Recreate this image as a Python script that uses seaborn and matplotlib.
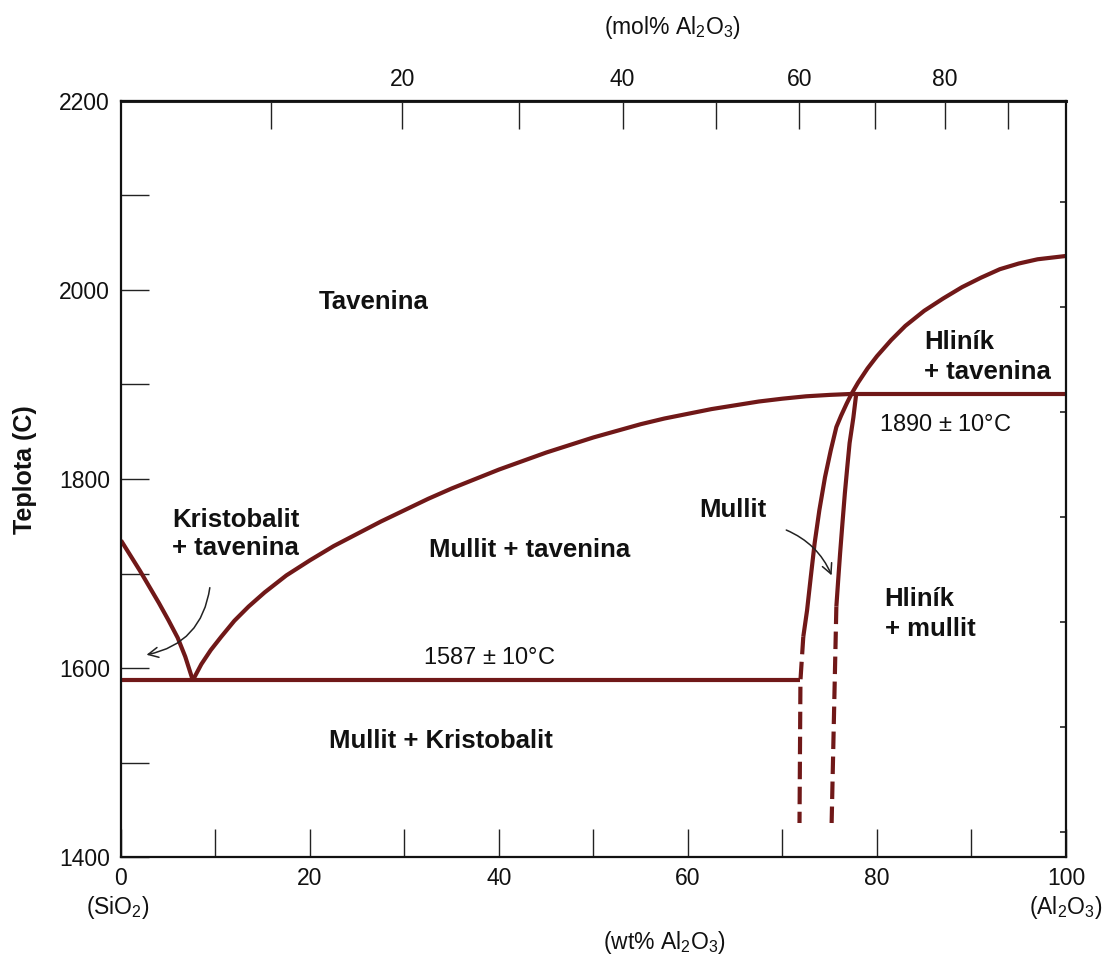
import numpy as np
import pandas as pd
import matplotlib
matplotlib.use("Agg")
import matplotlib.pyplot as plt
import seaborn as sns

# ---------------- data ----------------
# SiO2-side liquidus (cristobalite + melt)
crist_wt = [0.0, 1.0, 2.0, 3.0, 4.0, 5.0, 6.0, 6.8, 7.6]
crist_T = [1735, 1719, 1703, 1686, 1669, 1651, 1632, 1612, 1587]

# mullite liquidus, eutectic -> peritectic
mull_liq_wt = [7.6, 8.5, 9.5, 10.6, 12.0, 13.5, 15.2, 17.5, 20.0, 22.5, 25.0, 27.5, 30.0,
               32.5, 35.0, 37.5, 40.0, 42.5, 45.0, 47.5, 50.0, 52.5, 55.0, 57.5, 60.0,
               62.5, 65.0, 67.5, 70.0, 72.5, 75.0, 77.3]
mull_liq_T = [1587, 1604, 1619, 1633, 1650, 1665, 1680, 1698, 1714, 1729, 1742, 1755, 1767,
              1779, 1790, 1800, 1810, 1819, 1828, 1836, 1844, 1851, 1858, 1864, 1869,
              1874, 1878, 1882, 1885, 1887.5, 1889, 1890]

# alumina liquidus
alu_liq_wt = [77.3, 78.0, 79.0, 80.0, 81.5, 83.0, 85.0, 87.0, 89.0, 91.0, 93.0, 95.0, 97.0, 100.0]
alu_liq_T = [1890, 1902, 1917, 1930, 1947, 1962, 1978, 1991, 2003, 2013, 2022, 2028, 2032.5, 2036]

# eutectic and peritectic isotherms
eut_wt = [0.0, 71.9]
eut_T = [1587, 1587]
per_wt = [77.3, 100.0]
per_T = [1890, 1890]

# mullite field boundaries (solid part, then dashed part)
mull_left_wt = [77.3, 76.8, 76.2, 75.7, 75.1, 74.5, 73.9, 73.4, 73.0, 72.6, 72.2]
mull_left_T = [1890, 1880, 1867, 1855, 1830, 1802, 1767, 1732, 1697, 1661, 1633]
mull_left_dash_wt = [72.2, 71.9, 71.8]
mull_left_dash_T = [1633, 1587, 1436]
mull_right_wt = [77.8, 77.5, 77.1, 76.85, 76.6, 76.35, 76.1, 75.9, 75.7]
mull_right_T = [1890, 1865, 1838, 1812, 1785, 1754, 1722, 1694, 1665]
mull_right_dash_wt = [75.7, 75.2]
mull_right_dash_T = [1665, 1436]

# axes ticks / labels
wt_ticks = list(range(0, 101, 10))
wt_labels = ["0", "", "20", "", "40", "", "60", "", "80", "", "100"]
T_ticks = list(range(1400, 2201, 100))
T_labels = ["1400", "", "1600", "", "1800", "", "2000", "", "2200"]
mol_ticks = [10, 20, 30, 40, 50, 60, 70, 80, 90]
mol_labels = ["", "20", "", "40", "", "60", "", "80", ""]
F_ticks = [2600, 2800, 3000, 3200, 3400, 3600, 3800]

# region labels: (text, wt, T, ha, linespacing)
region_labels = [
    ("Tavenina", 26.7, 1987, "center", 1.15),
    ("Kristobalit\n+ tavenina", 5.4, 1742, "left", 1.2),
    ("Mullit + tavenina", 43.2, 1725, "center", 1.15),
    ("Mullit + Kristobalit", 33.9, 1523, "center", 1.15),
    ("Mullit", 64.8, 1767, "center", 1.15),
    ("Hliník\n+ tavenina", 85.0, 1929, "left", 1.35),
    ("Hliník\n+ mullit", 80.8, 1657, "left", 1.35),
]
temp_labels = [
    ("1587 $\\pm$ 10$\\degree$C", 39.0, 1611),
    ("1890 $\\pm$ 10$\\degree$C", 87.2, 1857),
]
# arrows: (from wt, from T, to wt, to T, rad)
arrows = [
    (9.4, 1685, 2.7, 1614, -0.35),
    (70.4, 1746, 75.2, 1698, -0.2),
]

# ---------------- style ----------------
sns.set_theme(style="white")
plt.rcParams["font.family"] = ["Liberation Sans", "DejaVu Sans"]
plt.rcParams["mathtext.fontset"] = "custom"
plt.rcParams["mathtext.rm"] = "Liberation Sans"
plt.rcParams["mathtext.it"] = "Liberation Sans:italic"
plt.rcParams["mathtext.bf"] = "Liberation Sans:bold"

LINE = "#701818"
LW = 3.0

fig = plt.figure(figsize=(11.05, 9.58), dpi=100)
ax = fig.add_axes([0.1095, 0.1054, 0.8552, 0.7892])

def draw(xs, ys, dashed=False):
    df = pd.DataFrame({"x": xs, "y": ys})
    sns.lineplot(data=df, x="x", y="y", ax=ax, color=LINE, lw=LW, sort=False,
                 estimator=None, linestyle=(0, (4.2, 1.8)) if dashed else "-",
                 solid_capstyle="butt", dash_capstyle="butt", solid_joinstyle="round")

draw(crist_wt, crist_T)
draw(mull_liq_wt, mull_liq_T)
draw(alu_liq_wt, alu_liq_T)
draw(eut_wt, eut_T)
draw(per_wt, per_T)
draw(mull_left_wt, mull_left_T)
draw(mull_left_dash_wt, mull_left_dash_T, dashed=True)
draw(mull_right_wt, mull_right_T)
draw(mull_right_dash_wt, mull_right_dash_T, dashed=True)

ax.set_xlim(0, 100)
ax.set_ylim(1400, 2200)
ax.set_xlabel("")
ax.set_ylabel("")

ax.set_xticks(wt_ticks)
ax.set_xticklabels(wt_labels)
ax.set_yticks(T_ticks)
ax.set_yticklabels(T_labels)
ax.tick_params(axis="both", direction="in", length=20, width=1.0, color="#222222",
               labelsize=16.5, labelcolor="#111111", bottom=True, left=True,
               top=False, right=False)
ax.tick_params(axis="x", pad=7)
ax.tick_params(axis="y", pad=8)

for s in ax.spines.values():
    s.set_linewidth(1.6)
    s.set_color("#111111")
    s.set_visible(True)

# top axis in mol %
def wt2mol(w):
    w = np.clip(np.asarray(w, dtype=float), 1e-9, 100 - 1e-9)
    a = w / 101.96
    s = (100 - w) / 60.08
    return a / (a + s) * 100

def mol2wt(m):
    m = np.clip(np.asarray(m, dtype=float), 1e-9, 100 - 1e-9)
    a = m * 101.96
    s = (100 - m) * 60.08
    return a / (a + s) * 100

top = ax.secondary_xaxis("top", functions=(wt2mol, mol2wt))
top.set_xticks(mol_ticks)
top.set_xticklabels(mol_labels)
top.tick_params(direction="in", length=20, width=1.0, color="#222222",
                labelsize=16.5, pad=7, labelcolor="#111111", top=True)
top.spines["top"].set_linewidth(2.2)

# right axis in degrees F (unlabeled ticks)
def c2f(c):
    return np.asarray(c, dtype=float) * 9 / 5 + 32

def f2c(f):
    return (np.asarray(f, dtype=float) - 32) * 5 / 9

right = ax.secondary_yaxis("right", functions=(c2f, f2c))
right.set_yticks(F_ticks)
right.set_yticklabels([""] * len(F_ticks))
right.tick_params(direction="in", length=4, width=1.2, color="#222222", right=True)

# region labels
for txt, x, y, ha, ls in region_labels:
    ax.text(x, y, txt, ha=ha, va="center", fontsize=18.5, fontweight="bold",
            color="#111111", linespacing=ls)
for txt, x, y in temp_labels:
    ax.text(x, y, txt, ha="center", va="center", fontsize=17, color="#111111")

for x0, y0, x1, y1, rad in arrows:
    ax.annotate("", xy=(x1, y1), xytext=(x0, y0),
                arrowprops=dict(arrowstyle="->", color="#222222", lw=1.1,
                                connectionstyle=f"arc3,rad={rad}",
                                shrinkA=0, shrinkB=0, mutation_scale=18))

# axis titles
fig.text(0.6018, 0.0157, "(wt% Al$_2$O$_3$)", ha="center", va="center", fontsize=16.5, color="#111111")
fig.text(0.609, 0.9708, "(mol% Al$_2$O$_3$)", ha="center", va="center", fontsize=16.5, color="#111111")
fig.text(0.1068, 0.053, "(SiO$_2$)", ha="center", va="center", fontsize=16.5, color="#111111")
fig.text(0.9647, 0.053, "(Al$_2$O$_3$)", ha="center", va="center", fontsize=16.5, color="#111111")
fig.text(0.0226, 0.5094, "Teplota (C)", ha="center", va="center", rotation=90,
         fontsize=18, fontweight="bold", color="#111111")

fig.savefig("out.png", dpi=100, facecolor="white")
